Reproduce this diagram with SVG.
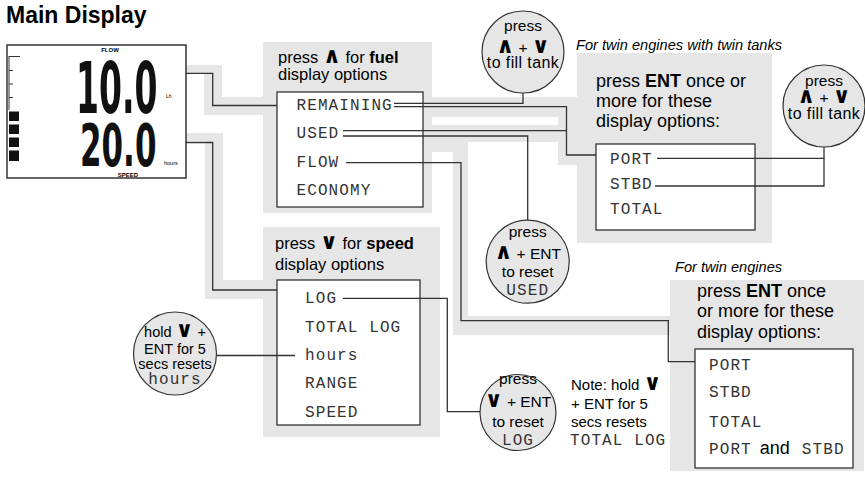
<svg xmlns="http://www.w3.org/2000/svg" width="865" height="477" viewBox="0 0 865 477">
<style>
.s{font-family:"Liberation Sans",Arial,sans-serif;fill:#000}
.m{font-family:"Liberation Mono","Courier New",monospace;fill:#333;font-size:16px;letter-spacing:1.1px}
.sym{font-family:"DejaVu Sans",sans-serif;font-weight:bold;font-size:22px}
.band{fill:#e6e6e6}
.ln{fill:none;stroke:#333;stroke-width:1.3}
.box{fill:#fff;stroke:#333;stroke-width:1.3}
.circ{fill:#e6e6e6;stroke:#333;stroke-width:1.2}
.lcd{font-family:"DejaVu Sans",sans-serif;font-weight:bold;fill:#111}
</style>
<rect width="865" height="477" fill="#fff"/>
<g id="title"><text class="s" x="6" y="23" font-size="23" font-weight="bold">Main Display</text></g>

<g id="bands">
<polygon class="band" points="186,65 222,65 222,97 263,97 263,115 204,115 204,73 186,73"/>
<polygon class="band" points="186,133 223,133 223,280 263,280 263,299 205,299 205,141 186,141"/>
<rect class="band" x="432" y="97" width="145" height="20"/>
<rect class="band" x="432" y="125" width="145" height="17"/>
<rect class="band" x="558" y="97" width="19" height="68"/>
<rect class="band" x="432" y="142" width="36" height="10"/>
<rect class="band" x="453" y="142" width="15" height="193"/>
<rect class="band" x="453" y="316" width="217" height="19"/>
</g>

<g id="display">
<rect x="7" y="45" width="179" height="133" fill="#fff" stroke="#333" stroke-width="1.5"/>
<line x1="9" y1="56" x2="9" y2="110" stroke="#333" stroke-width="1"/>
<line x1="9" y1="56.5" x2="20" y2="56.5" stroke="#333" stroke-width="1"/>
<line x1="9" y1="70.5" x2="13" y2="70.5" stroke="#333" stroke-width="1"/>
<line x1="9" y1="84" x2="13" y2="84" stroke="#333" stroke-width="1"/>
<line x1="9" y1="97.5" x2="13" y2="97.5" stroke="#333" stroke-width="1"/>
<rect x="9" y="111.5" width="10" height="9.5" fill="#111"/>
<rect x="9" y="124.5" width="10" height="9.5" fill="#111"/>
<rect x="9" y="137.5" width="10" height="9.5" fill="#111"/>
<rect x="9" y="150.5" width="10" height="10.5" fill="#111"/>
<text class="s" x="110" y="52" font-size="6" font-weight="bold" text-anchor="middle">FLOW</text>
<text class="lcd" transform="translate(76,113) scale(0.44,0.95)" font-size="75">10.0</text>
<text class="s" x="166" y="98" font-size="5">Lh</text>
<text class="lcd" transform="translate(80,166) scale(0.5,0.95)" font-size="62">20.0</text>
<text class="s" x="164" y="165" font-size="5.5">hours</text>
<text class="s" x="128" y="177" font-size="6" font-weight="bold" text-anchor="middle">SPEED</text>
</g>

<g id="fuel-panel">
<rect class="band" x="263" y="42" width="169" height="171"/>
<text class="s" x="278" y="63" font-size="16.5">press <tspan class="sym">∧</tspan> for <tspan font-weight="bold">fuel</tspan></text>
<text class="s" x="278" y="80" font-size="16.5">display options</text>
<rect class="box" x="277" y="92" width="146" height="115"/>
<text class="m" x="296.5" y="110">REMAINING</text>
<text class="m" x="296.5" y="138">USED</text>
<text class="m" x="296.5" y="166.5">FLOW</text>
<text class="m" x="296.5" y="195">ECONOMY</text>
</g>

<g id="speed-panel">
<rect class="band" x="263" y="227" width="177" height="210"/>
<text class="s" x="275" y="248.5" font-size="16.5">press <tspan class="sym">∨</tspan> for <tspan font-weight="bold">speed</tspan></text>
<text class="s" x="275" y="269.5" font-size="16.5">display options</text>
<rect class="box" x="277" y="280" width="143" height="145"/>
<text class="m" x="305" y="303">LOG</text>
<text class="m" x="305" y="331.5">TOTAL LOG</text>
<text class="m" x="305" y="359.5">hours</text>
<text class="m" x="305" y="388">RANGE</text>
<text class="m" x="305" y="416.5">SPEED</text>
</g>

<g id="twin-tanks">
<text class="s" x="576" y="50" font-size="14.6" font-style="italic">For twin engines with twin tanks</text>
<rect class="band" x="577" y="53" width="195" height="190"/>
<text class="s" x="596" y="87" font-size="18">press <tspan font-weight="bold">ENT</tspan> once or</text>
<text class="s" x="596" y="107" font-size="18">more for these</text>
<text class="s" x="596" y="127" font-size="18">display options:</text>
<rect class="box" x="596" y="144" width="159" height="86"/>
<text class="m" x="610" y="163.5">PORT</text>
<text class="m" x="610" y="188.5">STBD</text>
<text class="m" x="610" y="213.5">TOTAL</text>
</g>

<g id="twin-engines">
<text class="s" x="675" y="272" font-size="14.6" font-style="italic">For twin engines</text>
<rect class="band" x="670" y="280" width="194" height="191"/>
<text class="s" x="697" y="297" font-size="18">press <tspan font-weight="bold">ENT</tspan> once</text>
<text class="s" x="697" y="317" font-size="18">or more for these</text>
<text class="s" x="697" y="337.5" font-size="18">display options:</text>
<rect class="box" x="695" y="349" width="158" height="119"/>
<text class="m" x="709" y="370">PORT</text>
<text class="m" x="709" y="397">STBD</text>
<text class="m" x="709" y="427">TOTAL</text>
<text x="709" y="453.5"><tspan class="m">PORT</tspan><tspan class="s" font-size="18" dx="3"> and </tspan><tspan class="m" dx="7">STBD</tspan></text>
</g>

<g id="connectors">
<path class="ln" d="M186,73.3 H212.7 V105.5 H277"/>
<path class="ln" d="M186,142.5 H212.7 V290 H277"/>
<path class="ln" d="M394,103.3 H523 V93"/>
<path class="ln" d="M394,106.7 H566.5 V155 H596"/>
<path class="ln" d="M343,130.7 H566.5"/>
<path class="ln" d="M343,136 H527.7 V220"/>
<path class="ln" d="M346,162.7 H461 V320.7 H668.3 V361.7 H695"/>
<path class="ln" d="M343,298.3 H447.3 V411.7 H480.5"/>
<path class="ln" d="M216.7,355.5 H295"/>
<path class="ln" d="M657,158.3 H824 V147"/>
<path class="ln" d="M655,186 H824 V158.3"/>
</g>

<g id="fill-tank-1">
<circle class="circ" cx="523" cy="52" r="41"/>
<text class="s" x="523" y="31" font-size="15.5" text-anchor="middle">press</text>
<text class="s" x="523" y="53" font-size="15.5" text-anchor="middle"><tspan class="sym">∧</tspan> + <tspan class="sym">∨</tspan></text>
<text class="s" x="523" y="68" font-size="16" letter-spacing="0.4" text-anchor="middle">to fill tank</text>
</g>

<g id="fill-tank-2">
<circle class="circ" cx="824" cy="106" r="41"/>
<text class="s" x="824" y="86" font-size="15.5" text-anchor="middle">press</text>
<text class="s" x="824" y="103" font-size="15.5" text-anchor="middle"><tspan class="sym">∧</tspan> + <tspan class="sym">∨</tspan></text>
<text class="s" x="824" y="119" font-size="16" letter-spacing="0.4" text-anchor="middle">to fill tank</text>
</g>

<g id="reset-used">
<circle class="circ" cx="527.7" cy="261.7" r="41.5"/>
<text class="s" x="527.7" y="237" font-size="15.5" text-anchor="middle">press</text>
<text class="s" x="527.7" y="258.5" font-size="15.5" text-anchor="middle"><tspan class="sym">∧</tspan> + ENT</text>
<text class="s" x="527.7" y="277" font-size="15.5" text-anchor="middle">to reset</text>
<text class="m" x="527.7" y="295" font-size="14.5" letter-spacing="0.6" text-anchor="middle">USED</text>
</g>

<g id="reset-log">
<circle class="circ" cx="518" cy="412.5" r="38"/>
<text class="s" x="518" y="383.5" font-size="15.5" text-anchor="middle">press</text>
<text class="s" x="518" y="406.5" font-size="15.5" text-anchor="middle"><tspan class="sym">∨</tspan> + ENT</text>
<text class="s" x="518" y="426.5" font-size="15.5" text-anchor="middle">to reset</text>
<text class="m" x="518" y="445" font-size="14.5" letter-spacing="0.6" text-anchor="middle">LOG</text>
</g>

<g id="reset-hours">
<circle class="circ" cx="175" cy="353.5" r="41.5"/>
<text class="s" x="175" y="337" font-size="14.5" text-anchor="middle">hold <tspan class="sym" font-size="20">∨</tspan> +</text>
<text class="s" x="175" y="353.5" font-size="14.5" text-anchor="middle">ENT for 5</text>
<text class="s" x="175" y="368.5" font-size="14.5" text-anchor="middle">secs resets</text>
<text class="m" x="175" y="384" font-size="14" letter-spacing="0.3" text-anchor="middle">hours</text>
</g>

<g id="note">
<text class="s" x="571" y="389.5" font-size="15">Note: hold <tspan class="sym" font-size="20">∨</tspan></text>
<text class="s" x="571" y="408.5" font-size="15">+ ENT for 5</text>
<text class="s" x="571" y="427" font-size="15">secs resets</text>
<text class="m" x="570" y="445" font-size="14.5" letter-spacing="0.5">TOTAL LOG</text>
</g>
</svg>
